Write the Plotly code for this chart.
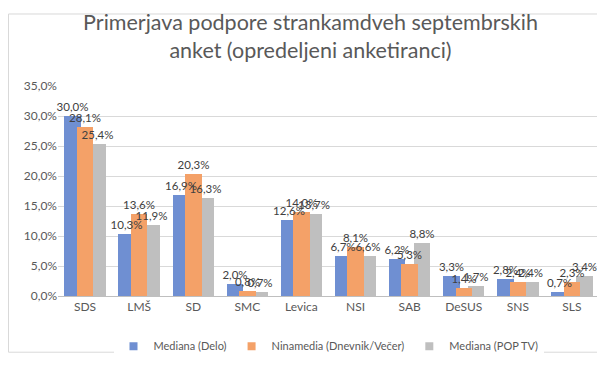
import plotly.graph_objects as go

categories = ["SDS", "LMŠ", "SD", "SMC", "Levica", "NSI", "SAB", "DeSUS", "SNS", "SLS"]
delo = [30.0, 10.3, 16.9, 2.0, 12.6, 6.7, 6.2, 3.3, 2.8, 0.7]
ninamedia = [28.1, 13.6, 20.3, 0.8, 14.0, 8.1, 5.3, 1.4, 2.4, 2.3]
poptv = [25.4, 11.9, 16.3, 0.7, 13.7, 6.6, 8.8, 1.7, 2.4, 3.4]
series_names = ["Mediana (Delo)", "Ninamedia (Dnevnik/Večer)", "Mediana (POP TV)"]

W, H = 605, 365
ml, mr, mt, mb = 50, 14, 78, 61

colors = ["#6F8FD2", "#F4A168", "#BFBFBF"]
bw = 0.305
step = 0.23

fig = go.Figure()
specs = [(0, delo, -step), (2, poptv, step), (1, ninamedia, 0.0)]
# bars (no text)
for idx, vals, c in specs:
    fig.add_trace(go.Bar(
        x=categories, y=vals, name=series_names[idx], showlegend=False,
        marker=dict(color=colors[idx], line=dict(width=0)),
        width=bw, offset=c - bw / 2, hoverinfo="skip",
    ))
# data labels drawn on top of all bars
for idx, vals, c in specs:
    fig.add_trace(go.Bar(
        x=categories, y=vals, name=series_names[idx], showlegend=False,
        marker=dict(color="rgba(0,0,0,0)", line=dict(width=0)),
        width=bw, offset=c - bw / 2,
        text=vals, texttemplate="%{y:.1f}%", textposition="outside",
        constraintext="none",
        textfont=dict(size=11.5, color="#404040", family="Lato"),
        cliponaxis=False,
    ))

# legend entries with small square markers
for idx in range(3):
    fig.add_trace(go.Scatter(
        x=[None], y=[None], mode="markers", name=series_names[idx],
        marker=dict(symbol="square", size=8, color=colors[idx]),
        showlegend=True,
    ))

fig.update_layout(
    width=W, height=H,
    margin=dict(l=ml, r=mr, t=mt, b=mb),
    barmode="overlay",
    separators=", ",
    paper_bgcolor="white", plot_bgcolor="white",
    font=dict(family="Lato", color="#595959"),
    title=dict(
        text="Primerjava podpore strankamdveh septembrskih<br>anket (opredeljeni anketiranci)",
        x=0.5, xanchor="center", y=0.94, yanchor="top",
        font=dict(size=21.5, color="#595959", family="Lato"),
    ),
    xaxis=dict(
        type="category", showgrid=False, showline=True, linecolor="#BFBFBF", linewidth=1,
        ticks="", tickfont=dict(size=12, color="#595959"),
    ),
    yaxis=dict(
        range=[0, 35], dtick=5, tickformat=".1f", ticksuffix="%",
        showgrid=True, gridcolor="#D9D9D9", gridwidth=1, zeroline=False,
        showline=False, tickfont=dict(size=12, color="#595959"),
    ),
    legend=dict(
        orientation="h", x=0.5, xanchor="center", y=-0.17, yanchor="top",
        font=dict(size=11, color="#595959"), traceorder="normal",
        itemwidth=30, tracegroupgap=0,
    ),
    bargap=0,
)

pw = W - ml - mr
ph = H - mt - mb
fig.add_shape(
    type="rect", xref="paper", yref="paper",
    x0=(0.5 - ml) / pw, x1=(W - 0.5 - ml) / pw,
    y0=(0.5 - mb) / ph, y1=(H - 0.5 - mb) / ph,
    line=dict(color="#D9D9D9", width=1), layer="below",
)

fig.write_html("out.html")
